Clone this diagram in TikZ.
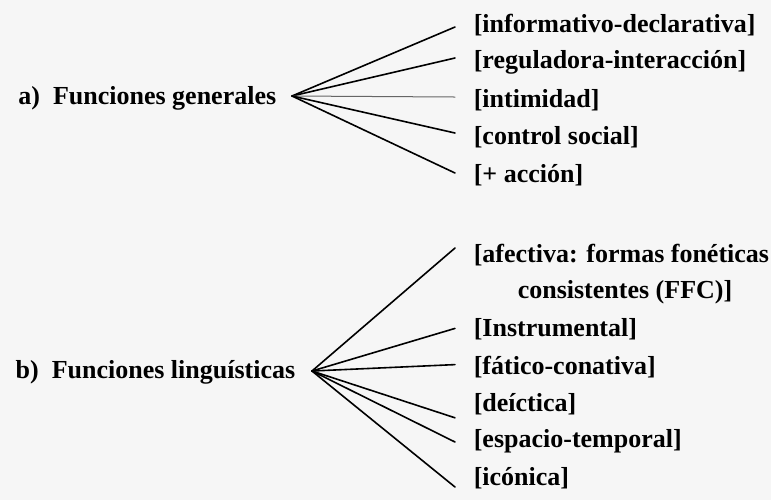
\documentclass[tikz,border=0pt]{standalone}
\usepackage{fontspec}
\setmainfont{Liberation Serif}
\usetikzlibrary{positioning,calc}
\definecolor{paper}{RGB}{246,246,246}
\tikzset{font=\fontsize{13}{15}\selectfont\bfseries}

\begin{document}
\begin{tikzpicture}[x=0.5pt,y=-0.5pt]
	\fill[paper] (0,0) rectangle (771,500);
	\useasboundingbox (0,0) rectangle (771,500);
	% a) general functions
	\begin{scope}[line width=0.8pt, line cap=round]
		\tikzstyle{every node}=[inner sep=0pt]
		\coordinate (ha) at (292, 96);
		\node[anchor=east] (ga) at (277, 98) {a)\enspace Funciones generales};
		\node[anchor=west] (a1) at (473, 25) {[informativo-declarativa]};
		\node[anchor=west] (a2) at (473, 62.5) {[reguladora-interacción]};
		\node[anchor=west] (a3) at (473, 100) {[intimidad]};
		\node[anchor=west] (a4) at (473, 137.5) {[control social]};
		\node[anchor=west] (a5) at (473, 175) {[+ acción]};

		\draw (ha) -- ([xshift=-9pt, yshift=-1pt]a1.west);
		\draw (ha) -- ([xshift=-9pt, yshift=2.25pt]a2.west);
		\draw[line width=0.5pt, black!60] (ha) -- ([xshift=-9pt, yshift=1.5pt]a3.west);
		\draw (ha) -- ([xshift=-9pt, yshift=2.25pt]a4.west);
		\draw (ha) -- ([xshift=-9pt, yshift=1pt]a5.west);
	\end{scope}
	% b) linguistic functions
	\begin{scope}[line width=0.8pt, line cap=round]
		\tikzstyle{every node}=[inner sep=0pt]
		\coordinate (hb) at (312, 371);
		\node[anchor=east] (gb) at (296, 372) {b)\enspace Funciones linguísticas};
		\node[anchor=west] (b1) at (473, 255) {[afectiva: formas fonéticas};
		\node (b1x) at (625, 292.2) {consistentes (FFC)]};
		\node[anchor=west] (b2) at (473, 329.4) {[Instrumental]};
		\node[anchor=west] (b3) at (473, 366.6) {[fático-conativa]};
		\node[anchor=west] (b4) at (473, 403.8) {[deíctica]};
		\node[anchor=west] (b5) at (473, 441) {[espacio-temporal]};
		\node[anchor=west] (b6) at (473, 478) {[icónica]};

		\draw (hb) -- ([xshift=-9pt, yshift=3.5pt]b1.west);
		\draw (hb) -- ([xshift=-9pt, yshift=0.5pt]b2.west);
		\draw (hb) -- ([xshift=-9pt, yshift=1pt]b3.west);
		\draw (hb) -- ([xshift=-9pt, yshift=-7pt]b4.west);
		\draw (hb) -- ([xshift=-9pt, yshift=-0.5pt]b5.west);
		\draw (hb) -- ([xshift=-9pt, yshift=-4.5pt]b6.west);
	\end{scope}
\end{tikzpicture}
\end{document}
